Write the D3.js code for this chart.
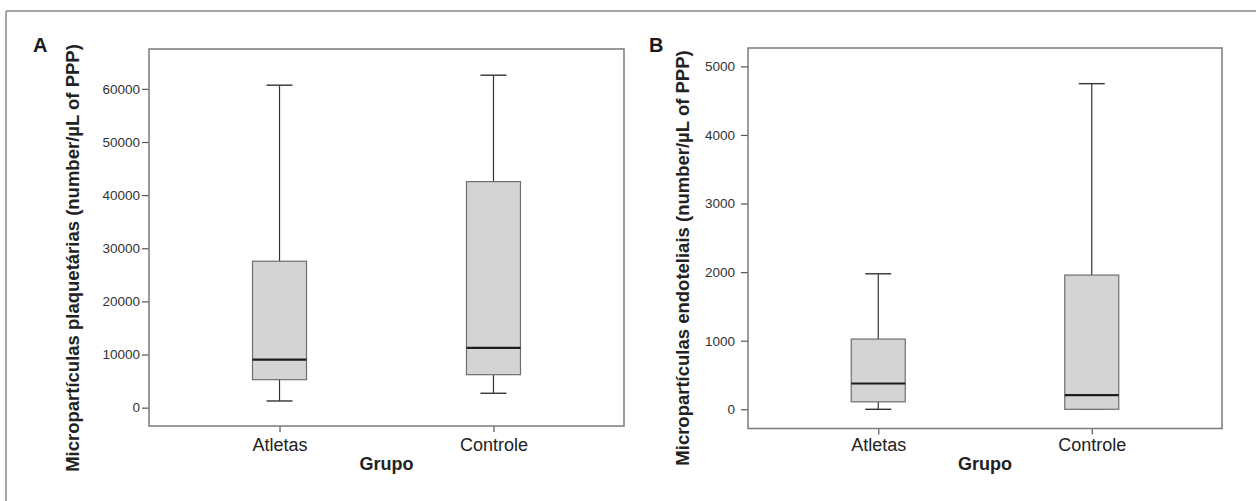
<!DOCTYPE html>
<html>
<head>
<meta charset="utf-8">
<script src="https://cdn.jsdelivr.net/npm/d3@7/dist/d3.min.js"></script>
<style>
  html, body { margin: 0; padding: 0; background: #fff; }
  svg { display: block; font-family: "Liberation Sans", Arial, Helvetica, sans-serif; }
</style>
</head>
<body>
<svg id="chart" width="1256" height="501"></svg>
<script>
// ---- Data ----
const groups = ["Atletas", "Controle"];

// Panel A: Micropartículas plaquetárias
const plaqLow  = [1260, 2710];
const plaqQ1   = [5270, 6210];
const plaqMed  = [9040, 11240];
const plaqQ3   = [27560, 42540];
const plaqHigh = [60690, 62570];
const plaqTicks = [0, 10000, 20000, 30000, 40000, 50000, 60000];

// Panel B: Micropartículas endoteliais
const endoLow  = [0, 0];
const endoQ1   = [109, 0];
const endoMed  = [376, 207];
const endoQ3   = [1024, 1957];
const endoHigh = [1976, 4748];
const endoTicks = [0, 1000, 2000, 3000, 4000, 5000];

const panelLetters = ["A", "B"];
const yTitles = [
  "Micropartículas plaquetárias (number/µL of PPP)",
  "Micropartículas endoteliais (number/µL of PPP)"
];
const xTitle = "Grupo";

// ---- Drawing ----
const svg = d3.select("#chart");

// outer figure border (top and left)
svg.append("line").attr("x1", 6).attr("x2", 1256).attr("y1", 11).attr("y2", 11)
  .attr("stroke", "#888").attr("stroke-width", 1.5);
svg.append("line").attr("x1", 6).attr("x2", 6).attr("y1", 11).attr("y2", 501)
  .attr("stroke", "#888").attr("stroke-width", 1.5);

const panels = [
  {
    letter: panelLetters[0], letterX: 33, title: yTitles[0], titleX: 79,
    left: 149, right: 624, top: 49, bottom: 426,
    domain: [-3450, 67500], ticks: plaqTicks, tickPad: 2,
    low: plaqLow, q1: plaqQ1, med: plaqMed, q3: plaqQ3, high: plaqHigh
  },
  {
    letter: panelLetters[1], letterX: 649, title: yTitles[1], titleX: 689,
    left: 748, right: 1222, top: 48, bottom: 428.5,
    domain: [-280, 5268], ticks: endoTicks, tickPad: 6,
    low: endoLow, q1: endoQ1, med: endoMed, q3: endoQ3, high: endoHigh
  }
];

panels.forEach(p => {
  const g = svg.append("g");
  const x = d3.scalePoint().domain(groups).range([p.left, p.right]).padding(0.61);
  const y = d3.scaleLinear().domain(p.domain).range([p.bottom, p.top]);

  // panel letter
  g.append("text").attr("x", p.letterX).attr("y", 52)
    .attr("font-size", 20).attr("font-weight", "bold").attr("fill", "#1a1a1a")
    .text(p.letter);

  // y axis
  const ya = g.append("g").attr("transform", `translate(${p.left},0)`)
    .call(d3.axisLeft(y).tickValues(p.ticks).tickSize(7).tickPadding(p.tickPad).tickFormat(d3.format("d")));
  ya.select(".domain").remove();
  ya.selectAll(".tick line").attr("stroke", "#555").attr("stroke-width", 1.2);
  ya.selectAll(".tick text").attr("font-size", 13.5).attr("fill", "#333")
    .attr("font-family", "\"Liberation Sans\", Arial, sans-serif");

  // x axis
  const xa = g.append("g").attr("transform", `translate(0,${p.bottom})`)
    .call(d3.axisBottom(x).tickSize(6).tickPadding(6));
  xa.select(".domain").remove();
  xa.selectAll(".tick line").attr("stroke", "#555").attr("stroke-width", 1.2);
  xa.selectAll(".tick text").attr("font-size", 18).attr("fill", "#222")
    .attr("font-family", "\"Liberation Sans\", Arial, sans-serif")
    .attr("dy", null).attr("y", 0)
    .attr("transform", `translate(0,${451 - p.bottom})`);

  // frame
  g.append("rect").attr("x", p.left).attr("y", p.top)
    .attr("width", p.right - p.left).attr("height", p.bottom - p.top)
    .attr("fill", "none").attr("stroke", "#7a7a7a").attr("stroke-width", 1.5);

  // titles
  g.append("text").attr("x", (p.left + p.right) / 2).attr("y", 470)
    .attr("text-anchor", "middle").attr("font-size", 18).attr("font-weight", "bold")
    .attr("fill", "#222").text(xTitle);
  g.append("text")
    .attr("transform", `translate(${p.titleX},258) rotate(-90)`)
    .attr("text-anchor", "middle").attr("font-size", 18.5).attr("font-weight", "bold")
    .attr("fill", "#222").text(p.title);

  // boxes
  const boxW = 54, capW = 26;
  groups.forEach((grp, i) => {
    const cx = x(grp);
    const bg = g.append("g");
    // whiskers
    bg.append("line").attr("x1", cx).attr("x2", cx).attr("y1", y(p.high[i])).attr("y2", y(p.q3[i]))
      .attr("stroke", "#333").attr("stroke-width", 1.2);
    bg.append("line").attr("x1", cx).attr("x2", cx).attr("y1", y(p.q1[i])).attr("y2", y(p.low[i]))
      .attr("stroke", "#333").attr("stroke-width", 1.2);
    // caps
    bg.append("line").attr("x1", cx - capW / 2).attr("x2", cx + capW / 2)
      .attr("y1", y(p.high[i])).attr("y2", y(p.high[i])).attr("stroke", "#333").attr("stroke-width", 1.4);
    bg.append("line").attr("x1", cx - capW / 2).attr("x2", cx + capW / 2)
      .attr("y1", y(p.low[i])).attr("y2", y(p.low[i])).attr("stroke", "#333").attr("stroke-width", 1.4);
    // box
    bg.append("rect").attr("x", cx - boxW / 2).attr("y", y(p.q3[i]))
      .attr("width", boxW).attr("height", y(p.q1[i]) - y(p.q3[i]))
      .attr("fill", "#d3d4d6").attr("stroke", "#6e6e6e").attr("stroke-width", 1.2);
    // median
    bg.append("line").attr("x1", cx - boxW / 2).attr("x2", cx + boxW / 2)
      .attr("y1", y(p.med[i])).attr("y2", y(p.med[i]))
      .attr("stroke", "#1e1e1e").attr("stroke-width", 2.2);
  });
});
</script>
</body>
</html>
